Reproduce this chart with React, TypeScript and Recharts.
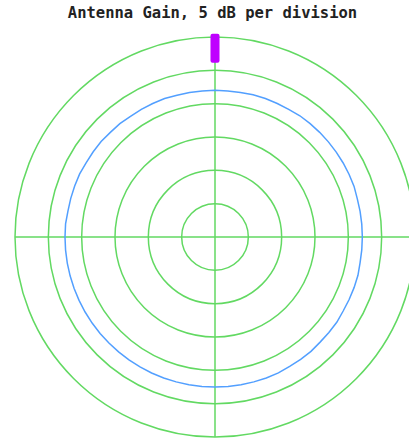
import React from 'react';
import { RadarChart, Radar, PolarGrid, PolarAngleAxis, PolarRadiusAxis } from 'recharts';

const title = 'Antenna Gain, 5 dB per division';

// azimuth in degrees, clockwise from the top
const azimuths = [
  0, 5, 10, 15, 20, 25, 30, 35, 40, 45, 50, 55,
  60, 65, 70, 75, 80, 85, 90, 95, 100, 105, 110, 115,
  120, 125, 130, 135, 140, 145, 150, 155, 160, 165, 170, 175,
  180, 185, 190, 195, 200, 205, 210, 215, 220, 225, 230, 235,
  240, 245, 250, 255, 260, 265, 270, 275, 280, 285, 290, 295,
  300, 305, 310, 315, 320, 325, 330, 335, 340, 345, 350, 355,
];

// antenna gain in dB (0 dB = outer ring)
const gainDb = [
  -8.0, -8.0, -8.0, -7.9, -7.9, -7.9, -7.9, -7.8, -7.8, -7.8, -7.8, -7.8,
  -7.8, -7.8, -7.8, -7.9, -7.9, -7.9, -7.9, -7.9, -7.9, -7.8, -7.8, -7.8,
  -7.8, -7.7, -7.7, -7.7, -7.6, -7.6, -7.6, -7.5, -7.5, -7.5, -7.5, -7.5,
  -7.5, -7.5, -7.5, -7.5, -7.5, -7.5, -7.5, -7.5, -7.5, -7.5, -7.5, -7.5,
  -7.5, -7.5, -7.5, -7.5, -7.5, -7.5, -7.5, -7.5, -7.6, -7.6, -7.6, -7.6,
  -7.7, -7.7, -7.7, -7.8, -7.8, -7.9, -7.9, -7.9, -7.9, -8.0, -8.0, -8.0,
];

// heading marker
const markerAzimuth = 0;
const markerLevelDb = -1.7;

// rings: 5 dB per division
const ringTicksDb = [-30, -25, -20, -15, -10, -5, 0];
const gridAzimuths = [0, 90, 180, 270];

const data = azimuths.map((az, i) => ({
  azimuth: az,
  gain: gainDb[i],
  marker: az === markerAzimuth ? markerLevelDb : null,
}));

const GREEN = '#62d962';
const BLUE = '#529fff';
const MAGENTA = '#bf00ff';

const MarkerDot = (props: any) => {
  const { cx, cy, payload, index } = props;
  if (!payload || payload.marker == null) return <g key={`m-${index}`} />;
  return (
    <rect
      key={`m-${index}`}
      x={cx - 4.5}
      y={cy - 14.5}
      width={9}
      height={29}
      rx={2}
      fill={MAGENTA}
    />
  );
};

export default function App() {
  return (
    <div
      style={{
        position: 'absolute',
        left: 0,
        top: 0,
        width: 409,
        height: 440,
        overflow: 'hidden',
        background: '#ffffff',
      }}
    >
      <div
        style={{
          position: 'absolute',
          left: 0,
          top: 5,
          width: 425,
          textAlign: 'center',
          fontFamily: '"DejaVu Sans Mono", monospace',
          fontWeight: 'bold',
          fontSize: 15.5,
          lineHeight: '16px',
          color: '#222222',
          whiteSpace: 'nowrap',
        }}
      >
        {title}
      </div>
      <RadarChart
        width={409}
        height={440}
        cx={215}
        cy={237}
        outerRadius={200}
        data={data}
        margin={{ top: 0, right: 0, bottom: 0, left: 0 }}
      >
        <PolarGrid
          gridType="circle"
          polarAngles={gridAzimuths}
          stroke={GREEN}
          strokeWidth={1.5}
        />
        <PolarAngleAxis dataKey="azimuth" tick={false} axisLine={false} tickLine={false} />
        <PolarRadiusAxis
          type="number"
          domain={[-30, 0]}
          ticks={ringTicksDb as any}
          tickCount={7}
          tick={false}
          axisLine={false}
          tickLine={false}
        />
        <Radar
          dataKey="gain"
          stroke={BLUE}
          strokeWidth={1.5}
          fill="none"
          fillOpacity={0}
          dot={false}
          isAnimationActive={false}
        />
        <Radar
          dataKey="marker"
          stroke="none"
          fill="none"
          fillOpacity={0}
          dot={MarkerDot}
          isAnimationActive={false}
        />
      </RadarChart>
    </div>
  );
}
